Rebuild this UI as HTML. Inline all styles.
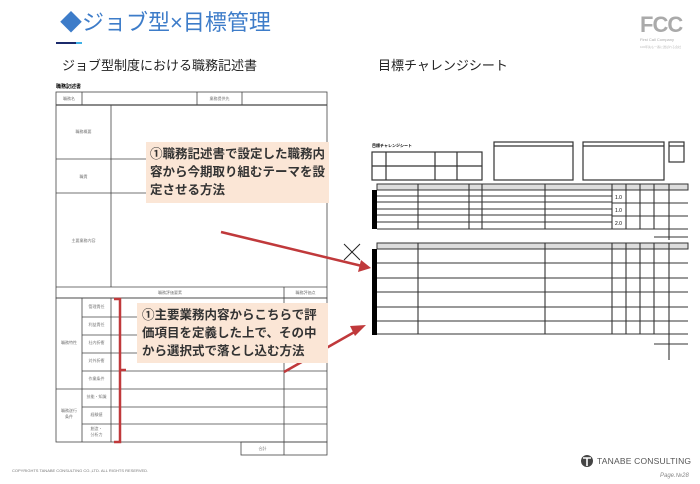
<!DOCTYPE html>
<html><head><meta charset="utf-8"><style>
body{margin:0;width:700px;height:484px;background:#fff;position:relative;overflow:hidden;font-family:"Liberation Sans","Noto Sans CJK JP",sans-serif}
.a{position:absolute;white-space:nowrap}
.s{font-size:4px;color:#777;position:absolute;text-align:center}
</style></head><body>
<div class="a" style="left:60px;top:5px;font-size:22px;color:#3d7cc9;font-weight:normal">◆ジョブ型×目標管理</div>
<div class="a" style="left:56px;top:42px;width:20px;height:2px;background:#1b2a6b"></div>
<div class="a" style="left:76px;top:42px;width:6px;height:2px;background:#3fb0e6"></div>
<div class="a" style="left:640px;top:12px;font-size:22px;color:#aaa;font-weight:bold;letter-spacing:-1px">FCC</div>
<div class="a" style="left:640px;top:37px;font-size:4px;color:#aaa">First Call Company</div>
<div class="a" style="left:640px;top:45px;font-size:3px;color:#bbb">100年先も一番に選ばれる会社</div>
<div class="a" style="left:62px;top:55px;font-size:13px;color:#222">ジョブ型制度における職務記述書</div>
<div class="a" style="left:378px;top:55px;font-size:13px;color:#222">目標チャレンジシート</div>
<div class="a" style="left:56px;top:83px;font-size:5px;font-weight:bold">職務記述書</div>
<svg class="a" style="left:0;top:0" width="700" height="484">
<g stroke="#444" stroke-width="0.8" fill="none">
<rect x="56" y="92" width="271" height="206"/>
<line x1="56" y1="105" x2="327" y2="105" stroke-width="1.3"/>
<line x1="82" y1="92" x2="82" y2="105"/><line x1="197" y1="92" x2="197" y2="105"/><line x1="242" y1="92" x2="242" y2="105"/>
<line x1="111" y1="105" x2="111" y2="287"/>
<line x1="56" y1="159" x2="327" y2="159"/><line x1="56" y1="193" x2="327" y2="193"/>
<line x1="56" y1="287" x2="327" y2="287"/>
<line x1="284" y1="287" x2="284" y2="455"/>
<rect x="56" y="298" width="271" height="144"/>
<line x1="82" y1="298" x2="82" y2="442"/><line x1="111" y1="298" x2="111" y2="442"/>
<g><line x1="82" y1="317" x2="327" y2="317"/><line x1="82" y1="335" x2="327" y2="335"/><line x1="82" y1="353" x2="327" y2="353"/><line x1="82" y1="371" x2="327" y2="371"/><line x1="56" y1="389" x2="327" y2="389"/><line x1="82" y1="407" x2="327" y2="407"/><line x1="82" y1="424" x2="327" y2="424"/></g>
<rect x="241" y="442" width="86" height="13"/>
</g>
<g stroke="#333" stroke-width="1.2" fill="none">
<rect x="372" y="152" width="110" height="28"/><line x1="372" y1="166" x2="482" y2="166"/><line x1="386" y1="152" x2="386" y2="180"/><line x1="435" y1="152" x2="435" y2="180"/><line x1="457" y1="152" x2="457" y2="180"/>
<rect x="494" y="142" width="79" height="38"/><line x1="494" y1="146" x2="573" y2="146"/>
<rect x="583" y="142" width="81" height="38"/><line x1="583" y1="146" x2="664" y2="146"/>
<rect x="669" y="142" width="15" height="20"/><line x1="669" y1="146" x2="684" y2="146"/>
</g>
<g fill="#ddd" stroke="#333" stroke-width="1">
<rect x="377" y="184" width="311" height="6"/>
<rect x="377" y="243" width="311" height="6"/>
</g>
<rect x="372" y="190" width="5" height="39" fill="#000"/>
<rect x="372" y="249" width="5" height="86" fill="#000"/>
<g stroke="#333" stroke-width="1.1">
<line x1="377" y1="229" x2="612" y2="229"/>
<g><line x1="377" y1="196" x2="612" y2="196"/><line x1="377" y1="202" x2="612" y2="202"/><line x1="377" y1="209" x2="612" y2="209"/><line x1="377" y1="215" x2="612" y2="215"/><line x1="377" y1="222" x2="612" y2="222"/></g>
<line x1="612" y1="203" x2="688" y2="203"/><line x1="612" y1="216" x2="688" y2="216"/><line x1="612" y1="229" x2="688" y2="229"/>
<line x1="418" y1="184" x2="418" y2="229"/><line x1="469" y1="184" x2="469" y2="229"/><line x1="482" y1="184" x2="482" y2="229"/><line x1="545" y1="184" x2="545" y2="229"/><line x1="612" y1="184" x2="612" y2="229"/><line x1="626" y1="184" x2="626" y2="229"/><line x1="640" y1="184" x2="640" y2="229"/><line x1="654" y1="184" x2="654" y2="229"/><line x1="669" y1="184" x2="669" y2="240"/>
<line x1="654" y1="237" x2="688" y2="237"/>
<g><line x1="377" y1="263" x2="688" y2="263"/><line x1="377" y1="278" x2="688" y2="278"/><line x1="377" y1="292" x2="688" y2="292"/><line x1="377" y1="307" x2="688" y2="307"/><line x1="377" y1="321" x2="688" y2="321"/><line x1="377" y1="334" x2="688" y2="334"/></g>
<line x1="418" y1="243" x2="418" y2="334"/><line x1="545" y1="243" x2="545" y2="334"/><line x1="612" y1="243" x2="612" y2="334"/><line x1="626" y1="243" x2="626" y2="334"/><line x1="640" y1="243" x2="640" y2="334"/><line x1="654" y1="243" x2="654" y2="334"/><line x1="669" y1="243" x2="669" y2="360"/>
<line x1="654" y1="344" x2="688" y2="344"/>
</g>
<g stroke="#222" stroke-width="1"><line x1="344" y1="244" x2="360" y2="260"/><line x1="360" y1="244" x2="344" y2="260"/></g>
<g stroke="#c0393b" stroke-width="2.5" fill="none">
<line x1="221" y1="232" x2="362" y2="266"/>
<line x1="284" y1="372" x2="358" y2="330"/>
<path d="M114 299 H120 V442 H114 M120 370 H126"/>
</g>
<polygon points="371,268 358,272 361,260" fill="#c0393b"/>
<polygon points="366,325 355,336 350,326" fill="#c0393b"/>
<circle cx="587" cy="461" r="6" fill="#444"/>
<path d="M583 458 H591 M587 458 V466" stroke="#fff" stroke-width="1.6"/>
</svg>
<div class="s" style="left:56px;top:96px;width:26px">職務名</div>
<div class="s" style="left:197px;top:96px;width:45px">業務提供先</div>
<div class="s" style="left:56px;top:129px;width:55px">職務概要</div>
<div class="s" style="left:56px;top:174px;width:55px">職責</div>
<div class="s" style="left:56px;top:238px;width:55px">主要業務内容</div>
<div class="s" style="left:56px;top:290px;width:228px">職務評価要素</div>
<div class="s" style="left:284px;top:290px;width:43px">職務評価点</div>
<div class="s" style="left:56px;top:340px;width:26px">職務特性</div>
<div class="s" style="left:56px;top:408px;width:26px">職務遂行<br>条件</div>
<div class="s" style="left:82px;top:304px;width:29px">管理責任</div>
<div class="s" style="left:82px;top:322px;width:29px">利益責任</div>
<div class="s" style="left:82px;top:340px;width:29px">社内折衝</div>
<div class="s" style="left:82px;top:358px;width:29px">対外折衝</div>
<div class="s" style="left:82px;top:376px;width:29px">作業条件</div>
<div class="s" style="left:82px;top:394px;width:29px">技能・知識</div>
<div class="s" style="left:82px;top:412px;width:29px">経験値</div>
<div class="s" style="left:82px;top:426px;width:29px">創造・<br>分析力</div>
<div class="s" style="left:241px;top:446px;width:43px">合計</div>
<div class="a" style="left:146px;top:142px;width:183px;height:61px;background:#fbe6d6;padding:3px 4px;box-sizing:border-box;font-size:12.5px;line-height:18px;color:#333;font-weight:bold;white-space:normal">①職務記述書で設定した職務内容から今期取り組むテーマを設定させる方法</div>
<div class="a" style="left:137px;top:303px;width:191px;height:60px;background:#fbe6d6;padding:3px 5px;box-sizing:border-box;font-size:12.5px;line-height:18px;color:#333;font-weight:bold;white-space:normal">①主要業務内容からこちらで評価項目を定義した上で、その中から選択式で落とし込む方法</div>
<div class="a" style="left:372px;top:143px;font-size:4px;font-weight:bold">目標チャレンジシート</div>
<div class="a" style="left:615px;top:195px;font-size:5px">1.0</div>
<div class="a" style="left:615px;top:208px;font-size:5px">1.0</div>
<div class="a" style="left:615px;top:221px;font-size:5px">2.0</div>
<div class="a" style="left:12px;top:468px;font-size:4px;color:#777">COPYRIGHTS TANABE CONSULTING CO.,LTD. ALL RIGHTS RESERVED.</div>
<div class="a" style="left:597px;top:456px;font-size:8.5px;color:#555;letter-spacing:0.2px">TANABE CONSULTING</div>
<div class="a" style="left:660px;top:473px;font-size:6px;color:#888;font-style:italic">Page.№28</div>
</body></html>
